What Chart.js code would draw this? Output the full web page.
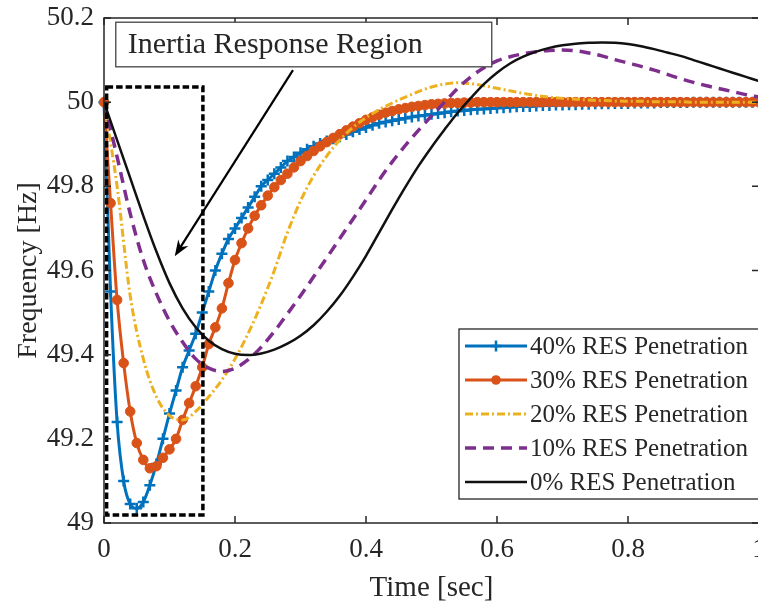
<!DOCTYPE html>
<html>
<head>
<meta charset="utf-8">
<script src="https://cdn.jsdelivr.net/npm/chart.js@4.4.1/dist/chart.umd.min.js"></script>
<style>
  html, body { margin: 0; padding: 0; background: #fff; overflow: hidden; }
  #wrap { width: 758px; height: 603px; overflow: hidden; }
  canvas { display: block; }
</style>
</head>
<body>
<div id="wrap"><canvas id="myChart" width="780" height="603"></canvas></div>
<script>
// time axes (s)
var timeFine = [0.00, 0.01, 0.02, 0.03, 0.04, 0.05, 0.06, 0.07, 0.08, 0.09,
                0.10, 0.11, 0.12, 0.13, 0.14, 0.15, 0.16, 0.17, 0.18, 0.19,
                0.20, 0.21, 0.22, 0.23, 0.24, 0.25, 0.26, 0.27, 0.28, 0.29,
                0.30, 0.31, 0.32, 0.33, 0.34, 0.35, 0.36, 0.37, 0.38, 0.39,
                0.40, 0.41, 0.42, 0.43, 0.44, 0.45, 0.46, 0.47, 0.48, 0.49,
                0.50, 0.51, 0.52, 0.53, 0.54, 0.55, 0.56, 0.57, 0.58, 0.59,
                0.60, 0.61, 0.62, 0.63, 0.64, 0.65, 0.66, 0.67, 0.68, 0.69,
                0.70, 0.71, 0.72, 0.73, 0.74, 0.75, 0.76, 0.77, 0.78, 0.79,
                0.80, 0.81, 0.82, 0.83, 0.84, 0.85, 0.86, 0.87, 0.88, 0.89,
                0.90, 0.91, 0.92, 0.93, 0.94, 0.95, 0.96, 0.97, 0.98, 0.99, 1.00];
var timeCoarse = [0.00, 0.02, 0.04, 0.06, 0.08, 0.10, 0.12, 0.14, 0.16, 0.18,
                  0.20, 0.22, 0.24, 0.26, 0.28, 0.30, 0.32, 0.34, 0.36, 0.38,
                  0.40, 0.42, 0.44, 0.46, 0.48, 0.50, 0.52, 0.54, 0.56, 0.58,
                  0.60, 0.62, 0.64, 0.66, 0.68, 0.70, 0.72, 0.74, 0.76, 0.78,
                  0.80, 0.82, 0.84, 0.86, 0.88, 0.90, 0.92, 0.94, 0.96, 0.98, 1.00];

// frequency [Hz]
var res40 = [50.000, 49.550, 49.240, 49.100, 49.045, 49.035, 49.050, 49.090, 49.140, 49.200,
             49.260, 49.315, 49.370, 49.410, 49.450, 49.500, 49.550, 49.600, 49.640, 49.675,
             49.700, 49.725, 49.750, 49.775, 49.800, 49.815, 49.830, 49.845, 49.860, 49.870,
             49.880, 49.888, 49.895, 49.902, 49.908, 49.913, 49.918, 49.923, 49.930, 49.935,
             49.940, 49.945, 49.950, 49.953, 49.956, 49.959, 49.962, 49.965, 49.967, 49.969,
             49.971, 49.973, 49.975, 49.977, 49.979, 49.980, 49.982, 49.983, 49.984, 49.985,
             49.986, 49.987, 49.988, 49.989, 49.990, 49.990, 49.991, 49.992, 49.992, 49.993,
             49.993, 49.994, 49.994, 49.995, 49.995, 49.996, 49.996, 49.996, 49.997, 49.997,
             49.997, 49.998, 49.998, 49.998, 49.998, 49.999, 49.999, 49.999, 49.999, 49.999,
             50.000, 50.000, 50.000, 50.000, 50.000, 50.000, 50.000, 50.000, 50.000, 50.000, 50.000];
var res30 = [50.000, 49.760, 49.530, 49.380, 49.265, 49.190, 49.150, 49.130, 49.135, 49.155,
             49.175, 49.200, 49.245, 49.285, 49.325, 49.370, 49.425, 49.465, 49.510, 49.570,
             49.625, 49.665, 49.700, 49.730, 49.755, 49.778, 49.798, 49.815, 49.830, 49.845,
             49.860, 49.872, 49.884, 49.895, 49.905, 49.915, 49.924, 49.933, 49.942, 49.950,
             49.958, 49.964, 49.970, 49.975, 49.979, 49.983, 49.986, 49.989, 49.991, 49.993,
             49.995, 49.996, 49.997, 49.998, 49.998, 49.999, 49.999, 50.000, 50.000, 50.000,
             50.000, 50.000, 50.000, 50.000, 50.000, 50.000, 50.000, 50.000, 50.000, 50.000,
             50.000, 50.000, 50.000, 50.000, 50.000, 50.000, 50.000, 50.000, 50.000, 50.000,
             50.000, 50.000, 50.000, 50.000, 50.000, 50.000, 50.000, 50.000, 50.000, 50.000,
             50.000, 50.000, 50.000, 50.000, 50.000, 50.000, 50.000, 50.000, 50.000, 50.000, 50.000];
var res20 = [50.000, 49.800, 49.540, 49.390, 49.300, 49.255, 49.245, 49.265, 49.300, 49.340,
             49.390, 49.450, 49.520, 49.600, 49.690, 49.765, 49.825, 49.872, 49.910, 49.940,
             49.963, 49.982, 49.998, 50.012, 50.025, 50.036, 50.043, 50.046, 50.044, 50.039,
             50.033, 50.027, 50.021, 50.016, 50.012, 50.009, 50.007, 50.005, 50.004, 50.003,
             50.002, 50.002, 50.001, 50.001, 50.001, 50.000, 50.000, 50.000, 50.000, 50.000, 50.000];
var res10 = [50.000, 49.870, 49.735, 49.625, 49.545, 49.480, 49.430, 49.390, 49.368, 49.360,
             49.368, 49.388, 49.418, 49.455, 49.497, 49.540, 49.585, 49.630, 49.676, 49.722,
             49.768, 49.815, 49.858, 49.897, 49.933, 49.967, 50.000, 50.033, 50.060, 50.082,
             50.098, 50.108, 50.115, 50.120, 50.123, 50.124, 50.122, 50.117, 50.110, 50.101,
             50.093, 50.085, 50.076, 50.066, 50.056, 50.047, 50.039, 50.032, 50.025, 50.018, 50.012];
var res0 = [50.000, 49.910, 49.820, 49.730, 49.645, 49.570, 49.510, 49.465, 49.433, 49.413,
            49.402, 49.399, 49.403, 49.412, 49.426, 49.445, 49.470, 49.502, 49.540, 49.585,
            49.635, 49.690, 49.745, 49.798, 49.848, 49.893, 49.935, 49.975, 50.010, 50.043,
            50.070, 50.092, 50.108, 50.120, 50.129, 50.135, 50.139, 50.141, 50.142, 50.141,
            50.138, 50.133, 50.126, 50.118, 50.110, 50.100, 50.090, 50.080, 50.070, 50.060, 50.050];

var seriesLabels = ['40% RES Penetration', '30% RES Penetration', '20% RES Penetration',
                    '10% RES Penetration', '0% RES Penetration'];
var xTicks = [0, 0.2, 0.4, 0.6, 0.8, 1];
var xTickLabels = ['0', '0.2', '0.4', '0.6', '0.8', '1'];
var yTicks = [49, 49.2, 49.4, 49.6, 49.8, 50, 50.2];
var yTickLabels = ['49', '49.2', '49.4', '49.6', '49.8', '50', '50.2'];

var axisColor = '#262626';
var serif = '"Liberation Serif", "Times New Roman", serif';

function pts(t, v) {
    return t.map(function(x, i) { return {x: x, y: v[i]}; });
}

// black frame with inward ticks, dashed region box, text box, arrow, legend
var decorations = {
    id: 'decorations',
    afterDatasetsDraw: function(chart) {
        var ctx = chart.ctx, a = chart.chartArea;
        var sx = chart.scales.x, sy = chart.scales.y;
        ctx.save();

        // inertia region box
        ctx.strokeStyle = '#000';
        ctx.lineWidth = 3.5;
        ctx.setLineDash([6.5, 3]);
        var bx0 = sx.getPixelForValue(0.004), bx1 = sx.getPixelForValue(0.151);
        var by0 = sy.getPixelForValue(50.036), by1 = sy.getPixelForValue(49.019);
        ctx.strokeRect(bx0, by0, bx1 - bx0, by1 - by0);
        ctx.setLineDash([]);

        // frame
        ctx.strokeStyle = axisColor;
        ctx.lineWidth = 1.5;
        ctx.strokeRect(a.left, a.top, a.right - a.left, a.bottom - a.top);
        ctx.beginPath();
        xTicks.forEach(function(v) {
            var px = sx.getPixelForValue(v);
            ctx.moveTo(px, a.bottom); ctx.lineTo(px, a.bottom - 7);
            ctx.moveTo(px, a.top); ctx.lineTo(px, a.top + 7);
        });
        yTicks.forEach(function(v) {
            var py = sy.getPixelForValue(v);
            ctx.moveTo(a.left, py); ctx.lineTo(a.left + 7, py);
            ctx.moveTo(a.right, py); ctx.lineTo(a.right - 7, py);
        });
        ctx.stroke();

        // text box
        var tx0 = sx.getPixelForValue(0.018), tx1 = sx.getPixelForValue(0.592);
        var ty0 = sy.getPixelForValue(50.19), ty1 = sy.getPixelForValue(50.084);
        ctx.fillStyle = '#fff';
        ctx.fillRect(tx0, ty0, tx1 - tx0, ty1 - ty0);
        ctx.strokeStyle = '#444';
        ctx.lineWidth = 1.3;
        ctx.strokeRect(tx0, ty0, tx1 - tx0, ty1 - ty0);
        ctx.fillStyle = axisColor;
        ctx.font = '30px ' + serif;
        ctx.textBaseline = 'middle';
        ctx.textAlign = 'left';
        ctx.fillText('Inertia Response Region', tx0 + 12, (ty0 + ty1) / 2 + 1);

        // arrow
        var ax0 = sx.getPixelForValue(0.2885), ay0 = sy.getPixelForValue(50.076);
        var ax1 = sx.getPixelForValue(0.108), ay1 = sy.getPixelForValue(49.634);
        var ang = Math.atan2(ay1 - ay0, ax1 - ax0);
        ctx.strokeStyle = '#000';
        ctx.lineWidth = 2.2;
        ctx.beginPath();
        ctx.moveTo(ax0, ay0);
        ctx.lineTo(ax1 - 8 * Math.cos(ang), ay1 - 8 * Math.sin(ang));
        ctx.stroke();
        ctx.fillStyle = '#000';
        ctx.beginPath();
        ctx.moveTo(ax1, ay1);
        ctx.lineTo(ax1 - 16 * Math.cos(ang) + 6 * Math.sin(ang), ay1 - 16 * Math.sin(ang) - 6 * Math.cos(ang));
        ctx.lineTo(ax1 - 11 * Math.cos(ang), ay1 - 11 * Math.sin(ang));
        ctx.lineTo(ax1 - 16 * Math.cos(ang) - 6 * Math.sin(ang), ay1 - 16 * Math.sin(ang) + 6 * Math.cos(ang));
        ctx.closePath();
        ctx.fill();

        // legend
        var lx = 459, ly = 329, lh = 34;
        ctx.fillStyle = '#fff';
        ctx.fillRect(lx, ly, 320, lh * 5);
        ctx.strokeStyle = axisColor;
        ctx.lineWidth = 1.3;
        ctx.strokeRect(lx, ly, 320, lh * 5);
        ctx.font = '25px ' + serif;
        chart.data.datasets.forEach(function(ds, i) {
            var yy = ly + lh / 2 + lh * i;
            var mx = lx + 37;
            ctx.strokeStyle = ds.borderColor;
            ctx.lineWidth = ds.borderWidth;
            ctx.setLineDash(ds.borderDash || []);
            ctx.beginPath();
            ctx.moveTo(lx + 6, yy); ctx.lineTo(lx + 68, yy);
            ctx.stroke();
            ctx.setLineDash([]);
            if (ds.pointRadius > 0) {
                ctx.fillStyle = ds.pointBackgroundColor;
                ctx.strokeStyle = ds.borderColor;
                ctx.lineWidth = ds.pointBorderWidth;
                ctx.beginPath();
                if (ds.pointStyle === 'circle') {
                    ctx.arc(mx, yy, ds.pointRadius, 0, Math.PI * 2);
                    ctx.fill();
                } else {
                    ctx.moveTo(mx - ds.pointRadius, yy); ctx.lineTo(mx + ds.pointRadius, yy);
                    ctx.moveTo(mx, yy - ds.pointRadius); ctx.lineTo(mx, yy + ds.pointRadius);
                    ctx.stroke();
                }
            }
            ctx.fillStyle = axisColor;
            ctx.textBaseline = 'middle';
            ctx.fillText(ds.label, lx + 71, yy + 1);
        });
        ctx.restore();
    }
};

var ctx = document.getElementById('myChart').getContext('2d');
var myChart = new Chart(ctx, {
    type: 'line',
    data: {
        datasets: [{
            label: seriesLabels[0],
            data: pts(timeFine, res40),
            borderColor: '#0072BD',
            backgroundColor: '#0072BD',
            borderWidth: 3,
            pointStyle: 'cross',
            pointRadius: 5.5,
            pointBorderWidth: 2.5,
            pointBackgroundColor: '#0072BD',
            order: 5,
            clip: false
        }, {
            label: seriesLabels[1],
            data: pts(timeFine, res30),
            borderColor: '#D95319',
            backgroundColor: '#D95319',
            borderWidth: 3,
            pointStyle: 'circle',
            pointRadius: 4.8,
            pointBorderWidth: 1,
            pointBackgroundColor: '#D95319',
            order: 4,
            clip: false
        }, {
            label: seriesLabels[2],
            data: pts(timeCoarse, res20),
            borderColor: '#EDB120',
            borderWidth: 3,
            borderDash: [8, 3, 2, 3],
            pointRadius: 0,
            order: 3
        }, {
            label: seriesLabels[3],
            data: pts(timeCoarse, res10),
            borderColor: '#7E2F8E',
            borderWidth: 3.5,
            borderDash: [11, 7],
            pointRadius: 0,
            order: 2
        }, {
            label: seriesLabels[4],
            data: pts(timeCoarse, res0),
            borderColor: '#111111',
            borderWidth: 2.5,
            pointRadius: 0,
            order: 1
        }]
    },
    options: {
        responsive: false,
        animation: false,
        events: [],
        layout: { padding: { top: 18, right: 21, left: 0, bottom: 0 } },
        elements: { line: { cubicInterpolationMode: 'monotone' } },
        plugins: { legend: { display: false }, tooltip: { enabled: false } },
        scales: {
            x: {
                type: 'linear',
                min: 0,
                max: 1,
                afterBuildTicks: function(scale) {
                    scale.ticks = xTicks.map(function(v) { return {value: v}; });
                },
                afterFit: function(scale) {
                    scale.height = 80;
                    scale.paddingLeft = 0;
                    scale.paddingRight = 0;
                },
                grid: { display: false, drawTicks: false },
                border: { display: false },
                ticks: {
                    autoSkip: false,
                    maxRotation: 0,
                    padding: 11,
                    color: axisColor,
                    font: { family: serif, size: 27 },
                    callback: function(value) { return xTickLabels[xTicks.indexOf(value)]; }
                },
                title: {
                    display: true,
                    text: 'Time [sec]',
                    color: axisColor,
                    font: { family: serif, size: 29, lineHeight: 1 },
                    padding: { top: 0, bottom: 0 }
                }
            },
            y: {
                type: 'linear',
                min: 49,
                max: 50.2,
                afterBuildTicks: function(scale) {
                    scale.ticks = yTicks.map(function(v) { return {value: v}; });
                },
                afterFit: function(scale) {
                    scale.width = 104;
                    scale.paddingTop = 0;
                    scale.paddingBottom = 0;
                },
                grid: { display: false, drawTicks: false },
                border: { display: false },
                ticks: {
                    autoSkip: false,
                    padding: 10,
                    color: axisColor,
                    font: { family: serif, size: 27 },
                    callback: function(value) { return yTickLabels[yTicks.indexOf(value)]; }
                },
                title: {
                    display: true,
                    text: 'Frequency [Hz]',
                    color: axisColor,
                    font: { family: serif, size: 28, lineHeight: 1 },
                    padding: { top: 15, bottom: 0 }
                }
            }
        }
    },
    plugins: [decorations]
});
</script>
</body>
</html>
